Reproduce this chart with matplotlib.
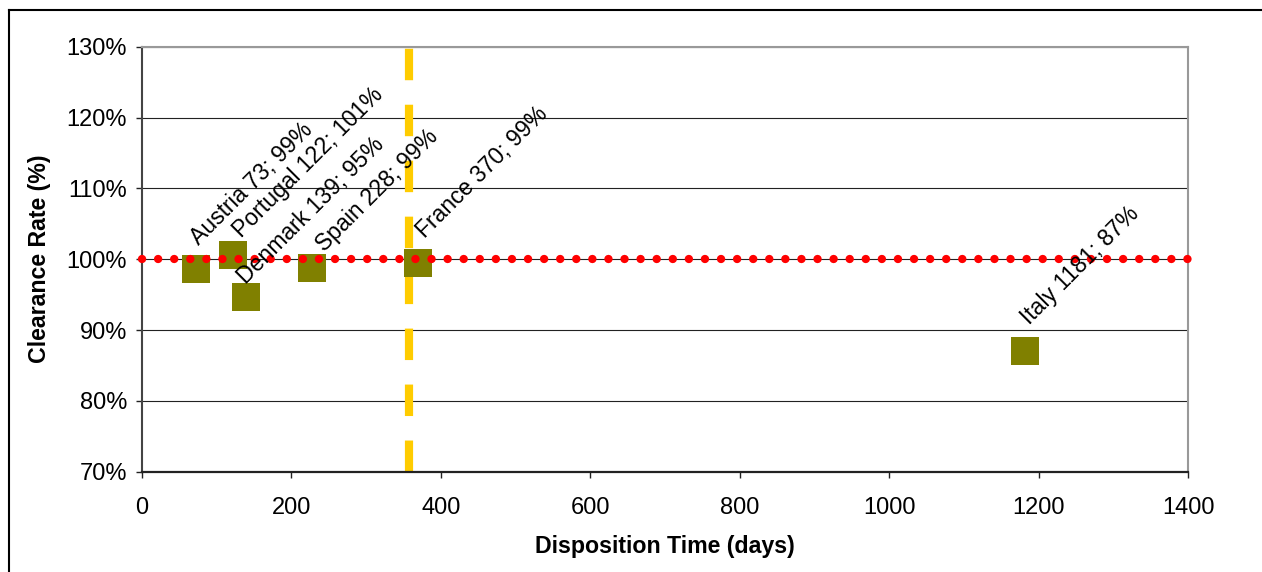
import matplotlib
matplotlib.use("Agg")
import matplotlib.pyplot as plt
from matplotlib.lines import Line2D
from matplotlib.ticker import FuncFormatter

# ---- data ----
countries = ["Austria", "Portugal", "Denmark", "Spain", "France", "Italy"]
disposition_days = [73, 122, 139, 228, 370, 1181]
clearance_rate = [98.6, 100.6, 94.6, 98.7, 99.4, 87.1]
label_rates = [99, 101, 95, 99, 99, 87]
average_days = 358
target_rate = 100
x_ticks = [0, 200, 400, 600, 800, 1000, 1200, 1400]
y_ticks = [70, 80, 90, 100, 110, 120, 130]

# label offsets (pixels, x right / y up) – layout only
label_offsets_px = [(3, 23.5), (9, 16.5), (0, 13), (12, 15.5), (7, 24.5), (5, 25)]

plt.rcParams['font.family'] = ['Liberation Sans', 'DejaVu Sans']

W, H = 1262, 572
fig = plt.figure(figsize=(W / 100, H / 100), dpi=100)
fig.patch.set_facecolor('white')

left, right = 141.7 / W, 1188.3 / W
bottom, top = 1 - 471.7 / H, 1 - 46.7 / H
ax = fig.add_axes([left, bottom, right - left, top - bottom])

ax.set_xlim(0, 1400)
ax.set_ylim(70, 130)

TICK_FS = 17
LABEL_FS = 16.6
AXIS_FS = 16.7

# gridlines
for yv in y_ticks:
    ax.axhline(yv, color='#222222', lw=0.8, zorder=1)

# average disposition time (yellow dashed)
ax.plot([average_days, average_days], [70, 130], color='#FFCC00', lw=5.9,
        linestyle=(0, (3.84, 2.99)), dash_capstyle='butt', zorder=2, clip_on=False)

# markers
ax.plot(disposition_days, clearance_rate, linestyle='none', marker='s',
        markersize=20.2, markerfacecolor='#808000', markeredgewidth=0, zorder=3)

# target 100% dotted red line
ax.plot([0, 1400], [target_rate, target_rate], color='#FF0000', lw=6.0,
        linestyle=(0, (0.01, 1.92)), dash_capstyle='round', zorder=4, clip_on=False)

# data labels
for name, d, r, lr, (ox, oy) in zip(countries, disposition_days, clearance_rate,
                                     label_rates, label_offsets_px):
    ax.annotate(f"{name} {d}; {lr}%", xy=(d, r), xytext=(ox * 0.72, oy * 0.72),
                textcoords='offset points', rotation=45, rotation_mode='anchor',
                ha='left', va='baseline', fontsize=LABEL_FS, color='black', zorder=6)

# axes styling
ax.set_xticks(x_ticks)
ax.set_yticks(y_ticks)
ax.yaxis.set_major_formatter(FuncFormatter(lambda v, p: f"{int(v)}%"))
ax.tick_params(axis='both', direction='out', length=4.5, width=1, color='#222222',
               labelsize=TICK_FS)
ax.tick_params(axis='x', pad=14)
ax.tick_params(axis='y', pad=6)

for s in ['top', 'right']:
    ax.spines[s].set_color('#999999')
    ax.spines[s].set_linewidth(1.5)
ax.spines['left'].set_color('#444444')
ax.spines['left'].set_linewidth(1.5)
ax.spines['bottom'].set_color('#222222')
ax.spines['bottom'].set_linewidth(1.6)

ax.set_xlabel("Disposition Time (days)", fontsize=AXIS_FS, fontweight='bold', labelpad=11)
ax.set_ylabel("Clearance Rate (%)", fontsize=AXIS_FS, fontweight='bold', labelpad=11)

# outer chart border
fig.add_artist(Line2D([9 / W, 9 / W], [0, 1 - 10 / H], color='black', lw=1.5,
                      transform=fig.transFigure))
fig.add_artist(Line2D([9 / W, 1], [1 - 10 / H, 1 - 10 / H], color='black', lw=1.5,
                      transform=fig.transFigure))

fig.savefig("out.png", dpi=100, facecolor='white')
